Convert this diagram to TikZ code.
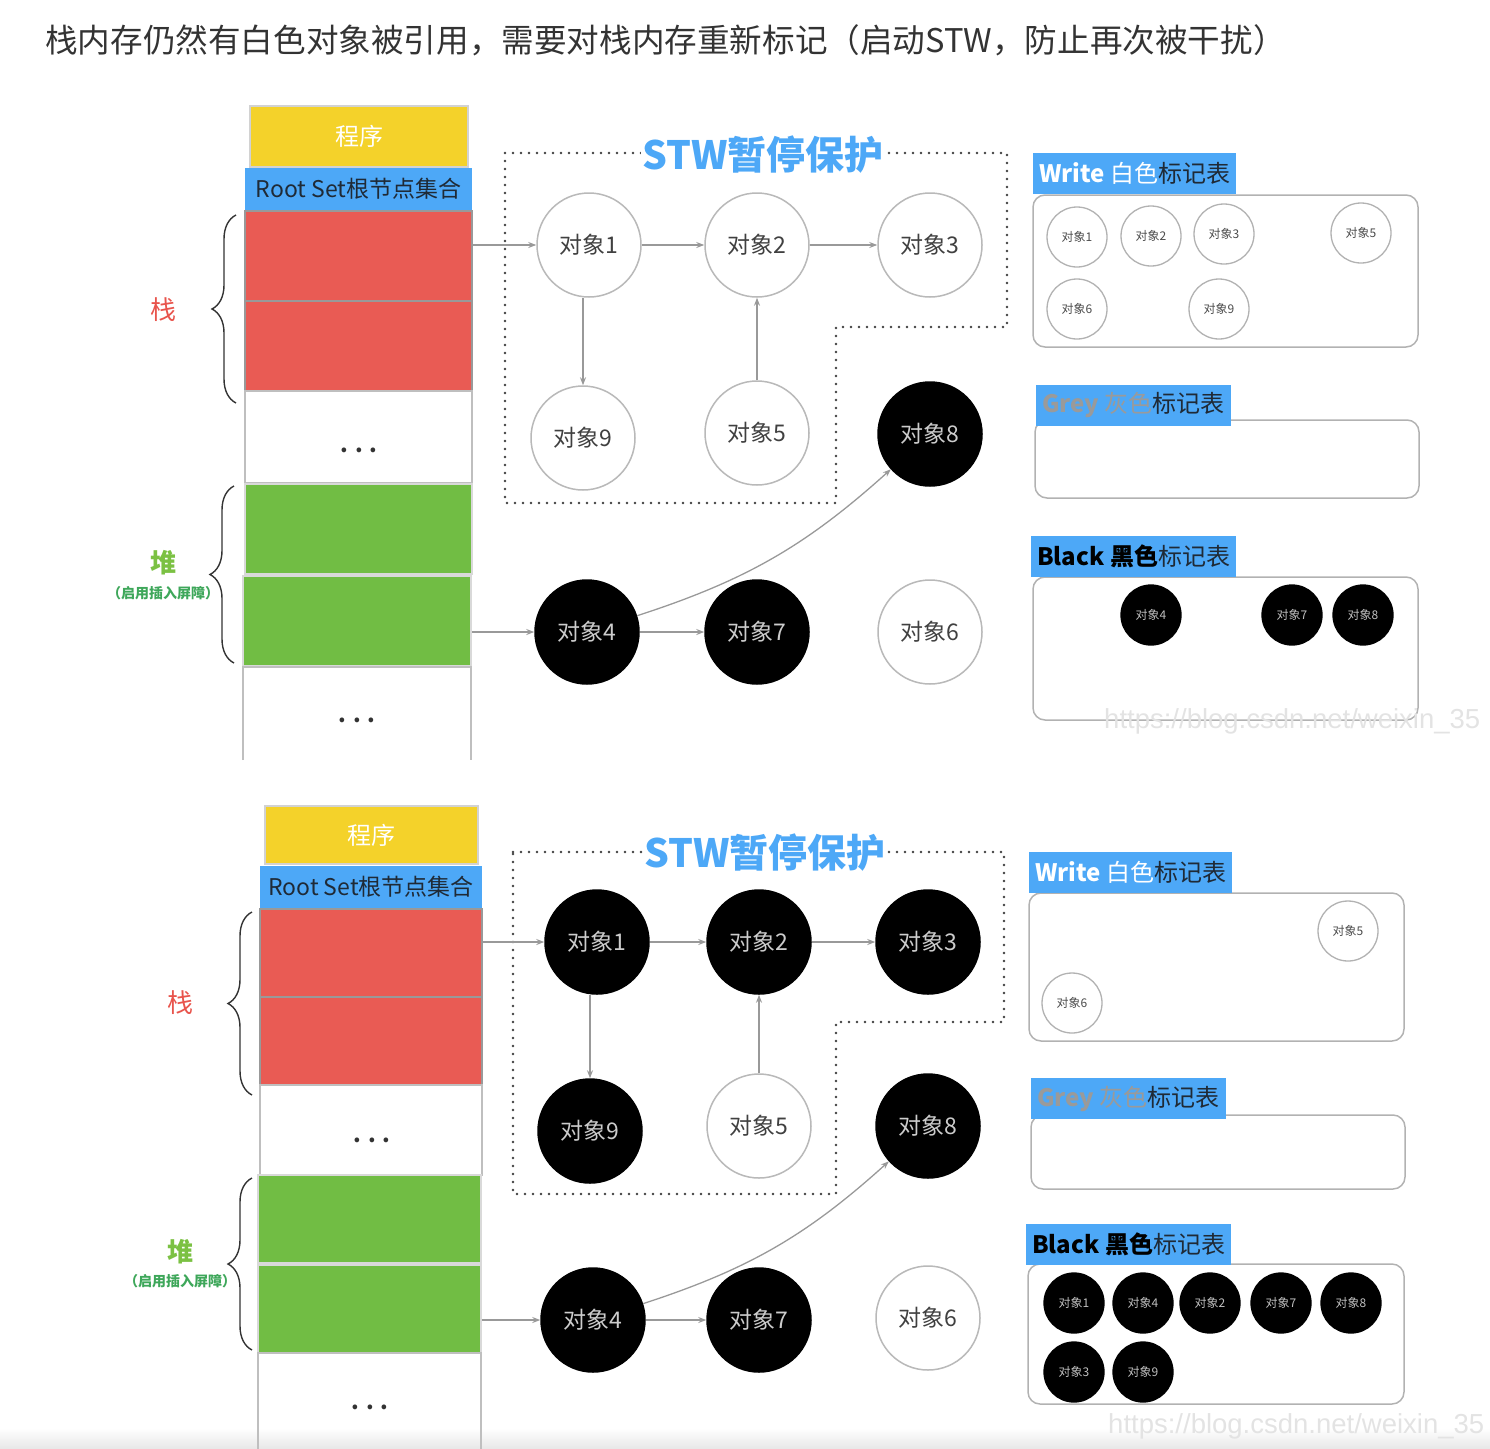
\documentclass[tikz,border=0pt]{standalone}
\usepackage{fontspec}
\setmainfont{Noto Sans CJK SC}
\newfontfamily\wmfont{Liberation Sans}
\usetikzlibrary{arrows.meta,decorations.pathreplacing,positioning}
\definecolor{cyellow}{HTML}{F4D22A}
\definecolor{cblue}{HTML}{4DA8F7}
\definecolor{cred}{HTML}{E95B54}
\definecolor{cgreen}{HTML}{71BD44}
\definecolor{cstack}{HTML}{E8544C}
\definecolor{cheap}{HTML}{7BC143}
\definecolor{cheapsub}{HTML}{3EA75A}
\definecolor{cdark}{HTML}{1F2A36}
\definecolor{cgreytxt}{HTML}{9A9A9A}
\tikzset{
    cell/.style={draw=gray!50, line width=1.5pt, minimum width=227pt, minimum height=90pt, inner sep=0pt},
    prog/.style={cell, fill=cyellow, draw=gray!35, text=white, font=\fontsize{24}{24}\selectfont},
    root/.style={cell, fill=cblue, draw=none, minimum height=42pt, text=cdark, font=\fontsize{23}{23}\selectfont},
    stack/.style={cell, fill=cred, draw=gray!80},
    heap/.style={cell, fill=cgreen, draw=gray!30},
    blank/.style={cell, fill=white},
    dots/.style={font=\bfseries\fontsize{22}{22}\selectfont, text=black!80},
    side/.style={font=\fontsize{26}{26}\selectfont},
    sidesub/.style={font=\bfseries\fontsize{14}{14}\selectfont, text=cheapsub},
    curly/.style={decorate, decoration={brace, amplitude=24pt, aspect=0.5}, draw=black!80, line width=1.4pt},
    obj/.style={circle, draw=gray!55, line width=1.5pt, fill=white, minimum size=104pt, inner sep=0pt,
        text=black!75, font=\fontsize{23}{23}\selectfont},
    objb/.style={obj, draw=black, fill=black, text=white!80!black},
    mini/.style={circle, draw=gray!60, line width=1.3pt, fill=white, minimum size=60pt, inner sep=0pt,
        text=black!70, font=\fontsize{12}{12}\selectfont},
    minib/.style={mini, draw=black, fill=black, text=white!75!black},
    ref/.style={draw=gray!80, line width=1.3pt, -{Stealth[length=8pt, width=6pt]}},
    stw/.style={draw=black!75, line width=2.8pt, line cap=round, dash pattern=on 0pt off 8pt},
    stwlbl/.style={fill=white, inner sep=1pt, text=cblue, font=\bfseries\fontsize{39}{39}\selectfont},
    tbl/.style={draw=gray!60, line width=1.5pt, rounded corners=12pt},
    hdr/.style={fill=cblue, anchor=west, minimum height=41pt, inner xsep=6pt, inner ysep=0pt,
        font=\fontsize{24}{24}\selectfont},
    wmark/.style={anchor=base west, inner sep=0pt, text=gray!22, font=\wmfont\fontsize{27.5}{28}\selectfont}
}

\begin{document}
\begin{tikzpicture}[x=1pt, y=-1pt]
    \clip (0,0) rectangle (1490,1448);
    \shade[top color=white, bottom color=gray!18] (0,1428) rectangle (1490,1448);

    \node[anchor=west, inner sep=0pt, text=black!80, font=\fontsize{32.6}{33}\selectfont] (ttl) at (45,40)
        {栈内存仍然有白色对象被引用，需要对栈内存重新标记（启动STW，防止再次被干扰）};

    % first state
    \node[prog, minimum width=218pt, minimum height=61pt] (pg1) at (359,136.5) {程序};
    \node[root] (rs1) at (358.5,189) {Root Set根节点集合};
    \node[stack] (st1) at (358.5,256) {};
    \node[stack] (st2) at (358.5,346) {};
    \node[blank, minimum height=92pt] (dt1) at (358.5,437) {};
    \node[dots] (dd1) at (359,450) {. . .};
    \node[heap] (hp1) at (358.5,529) {};
    \node[heap, minimum width=228pt] (hp2) at (357,621) {};
    \draw[gray!50, line width=1.5pt] (243,760) -- (243,667) -- (471,667) -- (471,760);
    \node[dots] (dd2) at (357,720) {. . .};
    \draw[curly] (236,403) -- (236,215);
    \draw[curly] (234,663) -- (234,486);
    \node[side, text=cstack] (lb1) at (163,310) {栈};
    \node[side, text=cheap, font=\bfseries\fontsize{26}{26}\selectfont] (lb2) at (163,563) {堆};
    \node[sidesub] (lb3) at (163,593) {（启用插入屏障）};

    \draw[stw] (505,153) -- (1007,153) -- (1007,327) -- (836,327) -- (836,503) -- (505,503) -- cycle;
    \node[stwlbl] (stw1) at (763,155) {STW暂停保护};

    \node[obj] (a1) at (589,245) {对象1};
    \node[obj] (a2) at (757,245) {对象2};
    \node[obj] (a3) at (930,245) {对象3};
    \node[obj] (a9) at (583,438) {对象9};
    \node[obj] (a5) at (757,433) {对象5};
    \node[objb] (a8) at (930,434) {对象8};
    \node[objb] (a4) at (587,632) {对象4};
    \node[objb] (a7) at (757,632) {对象7};
    \node[obj] (a6) at (930,632) {对象6};

    \draw[ref] (st1.east |- a1) -- (a1);
    \draw[ref] (a1) -- (a2);
    \draw[ref] (a2) -- (a3);
    \draw[ref] (a9 |- a1.south) -- (a9);
    \draw[ref] (a5) -- (a2);
    \draw[ref] (hp2.east |- a4) -- (a4);
    \draw[ref] (a4) -- (a7);
    \draw[ref] (a4) to[bend right=12] (a8);

    \draw[tbl] (1033,195) rectangle (1418,347);
    \node[hdr, text=white] (wh1) at (1033,173) {\textbf{Write} 白色\textcolor{cdark}{标记表}};
    \foreach \n/\x/\y in {1/1077/237, 2/1151/236, 3/1224/234, 5/1361/233, 6/1077/309, 9/1219/309}
        \node[mini] (wa\n) at (\x,\y) {对象\n};
    \draw[tbl] (1035,420) rectangle (1419,498);
    \node[hdr, text=cgreytxt] (gh1) at (1036,405.5) {\textbf{Grey} 灰色\textcolor{cdark}{标记表}};
    \draw[tbl] (1033,577) rectangle (1418,720);
    \node[hdr, text=black] (bh1) at (1031,556) {\textbf{Black 黑色}\textcolor{cdark}{标记表}};
    \foreach \n/\x/\y in {4/1151/615, 7/1292/615, 8/1363/615}
        \node[minib] (ba\n) at (\x,\y) {对象\n};
    \node[wmark] (wm1) at (1104,728) {https://blog.csdn.net/weixin\_35};

    % second state
    \node[prog, minimum width=213pt, minimum height=58pt] (pg2) at (371.5,835) {程序};
    \node[root, minimum width=222pt] (rs2) at (371,887) {Root Set根节点集合};
    \node[stack, minimum width=222pt, minimum height=88pt] (st3) at (371,953) {};
    \node[stack, minimum width=222pt, minimum height=88pt] (st4) at (371,1041) {};
    \node[blank, minimum width=222pt] (dt3) at (371,1130) {};
    \node[dots] (dd3) at (372,1140) {. . .};
    \node[heap, minimum width=223pt, minimum height=88pt] (hp3) at (369.5,1219) {};
    \node[heap, minimum width=223pt, minimum height=88pt] (hp4) at (369.5,1309) {};
    \draw[gray!50, line width=1.5pt] (258,1460) -- (258,1353) -- (481,1353) -- (481,1460);
    \node[dots] (dd4) at (370,1407) {. . .};
    \draw[curly] (252,1095) -- (252,912);
    \draw[curly] (252,1350) -- (252,1178);
    \node[side, text=cstack] (lb4) at (180,1003) {栈};
    \node[side, text=cheap, font=\bfseries\fontsize{26}{26}\selectfont] (lb5) at (180,1252) {堆};
    \node[sidesub] (lb6) at (180,1281) {（启用插入屏障）};

    \draw[stw] (513,852) -- (1004,852) -- (1004,1022) -- (836,1022) -- (836,1194) -- (513,1194) -- cycle;
    \node[stwlbl] (stw2) at (765,853) {STW暂停保护};

    \node[objb] (b1) at (597,942) {对象1};
    \node[objb] (b2) at (759,942) {对象2};
    \node[objb] (b3) at (928,942) {对象3};
    \node[objb] (b9) at (590,1131) {对象9};
    \node[obj] (b5) at (759,1126) {对象5};
    \node[objb] (b8) at (928,1126) {对象8};
    \node[objb] (b4) at (593,1320) {对象4};
    \node[objb] (b7) at (759,1320) {对象7};
    \node[obj] (b6) at (928,1318) {对象6};

    \draw[ref] (st3.east |- b1) -- (b1);
    \draw[ref] (b1) -- (b2);
    \draw[ref] (b2) -- (b3);
    \draw[ref] (b9 |- b1.south) -- (b9);
    \draw[ref] (b5) -- (b2);
    \draw[ref] (hp4.east |- b4) -- (b4);
    \draw[ref] (b4) -- (b7);
    \draw[ref] (b4) to[bend right=12] (b8);

    \draw[tbl] (1029,893) rectangle (1404,1041);
    \node[hdr, text=white] (wh2) at (1029,872) {\textbf{Write} 白色\textcolor{cdark}{标记表}};
    \foreach \n/\x/\y in {5/1348/931, 6/1072/1003}
        \node[mini] (wb\n) at (\x,\y) {对象\n};
    \draw[tbl] (1031,1115) rectangle (1405,1189);
    \node[hdr, text=cgreytxt] (gh2) at (1031,1098.5) {\textbf{Grey} 灰色\textcolor{cdark}{标记表}};
    \draw[tbl] (1028,1264) rectangle (1404,1404);
    \node[hdr, text=black] (bh2) at (1026,1244.5) {\textbf{Black 黑色}\textcolor{cdark}{标记表}};
    \foreach \n/\x/\y in {1/1074/1303, 4/1143/1303, 2/1210/1303, 7/1281/1303, 8/1351/1303, 3/1074/1372, 9/1143/1372}
        \node[minib] (bb\n) at (\x,\y) {对象\n};
    \node[wmark] (wm2) at (1108,1433) {https://blog.csdn.net/weixin\_35};
\end{tikzpicture}
\end{document}
